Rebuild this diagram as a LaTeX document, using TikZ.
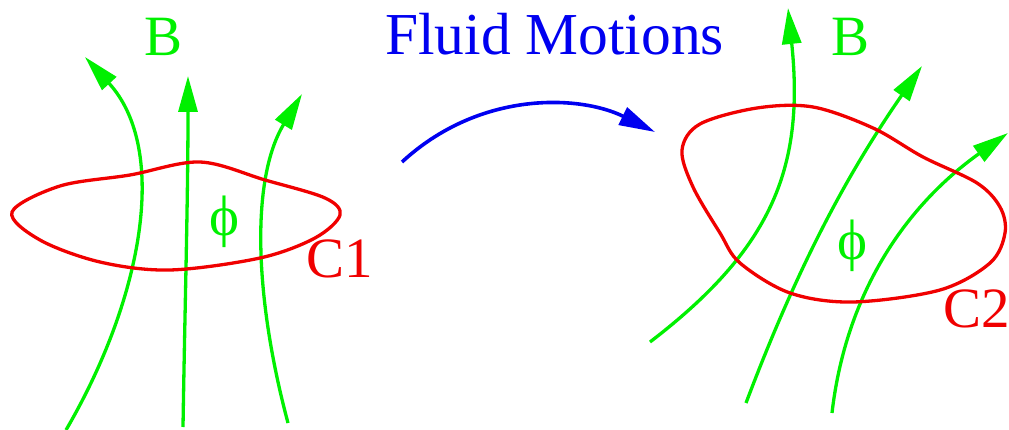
\documentclass[tikz,border=0pt]{standalone}
\usepackage{fontspec}
\setmainfont{Liberation Serif}
\usepackage{xcolor}
\definecolor{fgreen}{HTML}{00F000}
\definecolor{fred}{HTML}{F00000}
\definecolor{fblue}{HTML}{0000F0}
\usepackage{tikz}
\usetikzlibrary{arrows.meta}

\begin{document}
\begin{tikzpicture}[x=1pt,y=-1pt,>={Triangle[length=36pt,width=19pt]}]
\tikzset{
 fieldline/.style={draw=fgreen,line width=3.3pt,->},
 loop/.style={draw=fred,line width=3.3pt},
 motion/.style={draw=fblue,line width=3.6pt,->},
 lbl/.style={inner sep=0pt,font=\fontsize{57}{60}\selectfont}
}
\useasboundingbox (0,0) rectangle (1009,430);

% left: field lines and loop C1
\draw[fieldline] (66,430) .. controls (142,300) and (170,150) .. (85,57);
\draw[fieldline] (183,427) .. controls (185,300) and (188,200) .. (188,76);
\draw[fieldline] (288,423) .. controls (255,300) and (250,180) .. (302,94);
\draw[loop] plot[smooth cycle,tension=0.55] coordinates {(12,212) (60,186) (130,175) (200,162) (265,180) (325,198) (340,215) (315,238) (260,258) (170,270) (100,262) (40,240)};
\node[lbl,text=fgreen] (bleft) at (164,37) {B};
\node[lbl,text=fgreen] (phileft) at (224,222) {ϕ};
\node[lbl,text=fred] (cone) at (340,259) {C1};

% middle: the motion
\node[lbl,text=fblue,anchor=base west,font=\fontsize{59.5}{62}\selectfont] (title) at (385,55) {Fluid Motions};
\draw[motion] (402,162) .. controls (480,90) and (580,95) .. (655,132);

% right: field lines and loop C2
\draw[fieldline] (650,342) .. controls (770,250) and (805,170) .. (788,8);
\draw[fieldline] (746,403) .. controls (800,260) and (850,170) .. (922,66);
\draw[fieldline] (832,413) .. controls (845,300) and (900,210) .. (1008,133);
\draw[loop] plot[smooth cycle,tension=0.55] coordinates {(682,150) (700,124) (757,108) (813,107) (873,128) (923,157) (977,183) (1000,207) (1005,233) (990,263) (940,290) (853,302) (790,293) (740,263) (720,233) (693,187)};
\node[lbl,text=fgreen] (bright) at (850,37) {B};
\node[lbl,text=fgreen] (phiright) at (852,246) {ϕ};
\node[lbl,text=fred,anchor=west] (ctwo) at (943,309) {C2};
\end{tikzpicture}
\end{document}
